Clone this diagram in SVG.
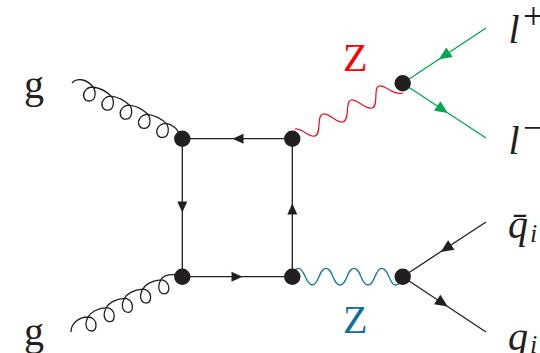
<svg xmlns="http://www.w3.org/2000/svg" width="540" height="353" viewBox="0 0 540 353">
<style>
.f{fill:none;stroke:#231f20;stroke-width:1.3}
.g{fill:none;stroke:#00a651;stroke-width:1.3}
.ah{fill:#231f20}
.ag{fill:#00a651}
.v{fill:#231f20}
text{font-family:"Liberation Serif","Times New Roman",serif;fill:#231f20}
.i{font-style:italic}
.big{font-size:40px}
.sup{font-size:37px}
.sub{font-size:26px}
</style>
<defs>
<path id="a" d="M-5.500,0L5.500,-5L5.500,5Z" stroke-linejoin="round"/>
</defs>
<g id="connectors">
<path class="f" d="M182.300,138.700H292.300M182.300,138.700V276.700M182.300,276.700H292.300M292.300,276.700V138.700"/>
<path id="gluon-top" class="f" d="M72,83C76,78 86,78 93,87c3,4 3.500,14 -4,14c-5,0 -7,-6 -4,-10c2,-3 5,-4 8,-4c7,1 13,4 18.300,9.100c3,4 3.500,14 -4,14c-5,0 -7,-6 -4,-10c2,-3 5,-4 8,-4c7,1 13,4 18.300,9.100c3,4 3.500,14 -4,14c-5,0 -7,-6 -4,-10c2,-3 5,-4 8,-4c7,1 13,4 18.300,9.100c3,4 3.500,14 -4,14c-5,0 -7,-6 -4,-10c2,-3 5,-4 8,-4c7,1 13,4 18.300,9.100c3,4 3.500,14 -4,14c-5,0 -7,-6 -4,-10c2,-3 5,-4 8,-4c7,1 12,6 15.800,15.600"/>
<path id="gluon-bottom" class="f" d="M71,332C71,324 78,317 88,317c4,0 8,3 8,8c0,4 -2,6 -4.500,6c-4,0 -6,-4 -5.500,-8c0.500,-3 1,-4 2,-6c2,-4 9,-9 18.200,-9.300c4,0 8,3 8,8c0,4 -2,6 -4.500,6c-4,0 -6,-4 -5.500,-8c0.500,-3 1,-4 2,-6c2,-4 9,-9 18.200,-9.300c4,0 8,3 8,8c0,4 -2,6 -4.500,6c-4,0 -6,-4 -5.500,-8c0.500,-3 1,-4 2,-6c2,-4 9,-9 18.200,-9.300c4,0 8,3 8,8c0,4 -2,6 -4.500,6c-4,0 -6,-4 -5.500,-8c0.500,-3 1,-4 2,-6c2,-4 9,-9 18.200,-9.300c4,0 8,3 8,8c0,4 -2,6 -4.500,6c-4,0 -6,-4 -5.500,-8c0.500,-3 1,-4 2,-6c3,-5 12,-7 21,-3"/>
<path id="z-red" fill="none" stroke="#f01020" stroke-width="1.200" d="M295,129C302,128 309,138 315,136C322,134 316,115 323,114C330,113 337,124 343,122C350,120 345,101 351,100C358,99 365,110 372,108C379,106 373,87 379,86C386,85 393,96 403,93"/>
<path id="z-blue" fill="none" stroke="#0f77a3" stroke-width="1.300" d="M292,273C295,270 296,268.300 298.400,268.300C305,268.300 305.500,285 312.300,285C319,285 319,268.300 326,268.300C333,268.300 333,285 340,285C347,285 347,268.300 354,268.300C361,268.300 361,285 367.800,285C375,285 375,268.300 381.700,268.300C389,268.300 389,285 395.700,285C398,285 400,283 403,280"/>
<path class="g" d="M402.700,83.300L486,28M402.700,83.300L486,138"/>
<path class="f" d="M402.700,276.700L486,222M402.700,276.700L486,332"/>
<use href="#a" class="ah" transform="translate(238,138.700)"/>
<use href="#a" class="ah" transform="translate(182.300,207) rotate(-90)"/>
<use href="#a" class="ah" transform="translate(237,276.700) rotate(180)"/>
<use href="#a" class="ah" transform="translate(292.300,209) rotate(90)"/>
<use href="#a" class="ag" transform="translate(444.200,55.800) rotate(-33.500) scale(1.150)"/>
<use href="#a" class="ag" transform="translate(442.500,109.500) rotate(213.500) scale(1.150)"/>
<use href="#a" class="ah" transform="translate(446,248.500) rotate(-33.500) scale(1.150)"/>
<use href="#a" class="ah" transform="translate(442.500,303) rotate(213.500) scale(1.150)"/>
</g>
<g id="n1"><circle class="v" cx="182.300" cy="138.700" r="8.200"/></g>
<g id="n2"><circle class="v" cx="292.300" cy="138.700" r="8.200"/></g>
<g id="n3"><circle class="v" cx="182.300" cy="276.700" r="8.200"/></g>
<g id="n4"><circle class="v" cx="292.300" cy="276.700" r="8.200"/></g>
<g id="n5"><circle class="v" cx="402.700" cy="83.300" r="8.200"/></g>
<g id="n6"><circle class="v" cx="402.700" cy="276.700" r="8.200"/></g>
<g id="labels">
<text class="big" x="24" y="98">g</text>
<text class="big" x="24" y="345">g</text>
<text class="big" x="343" y="71" style="fill:#ff0000">Z</text>
<text class="big" x="343" y="333" style="fill:#0f6f9c">Z</text>
<text class="big i" x="508.500" y="43">l</text>
<text class="sup" x="523" y="29">+</text>
<text class="big i" x="508.500" y="154">l</text>
<text class="sup" x="523" y="140">−</text>
<text class="big i" x="508" y="238">q&#772;</text>
<text class="sub i" x="530" y="241.500">i</text>
<text class="big i" x="508" y="350">q</text>
<text class="sub i" x="530" y="353">i</text>
</g>
</svg>
